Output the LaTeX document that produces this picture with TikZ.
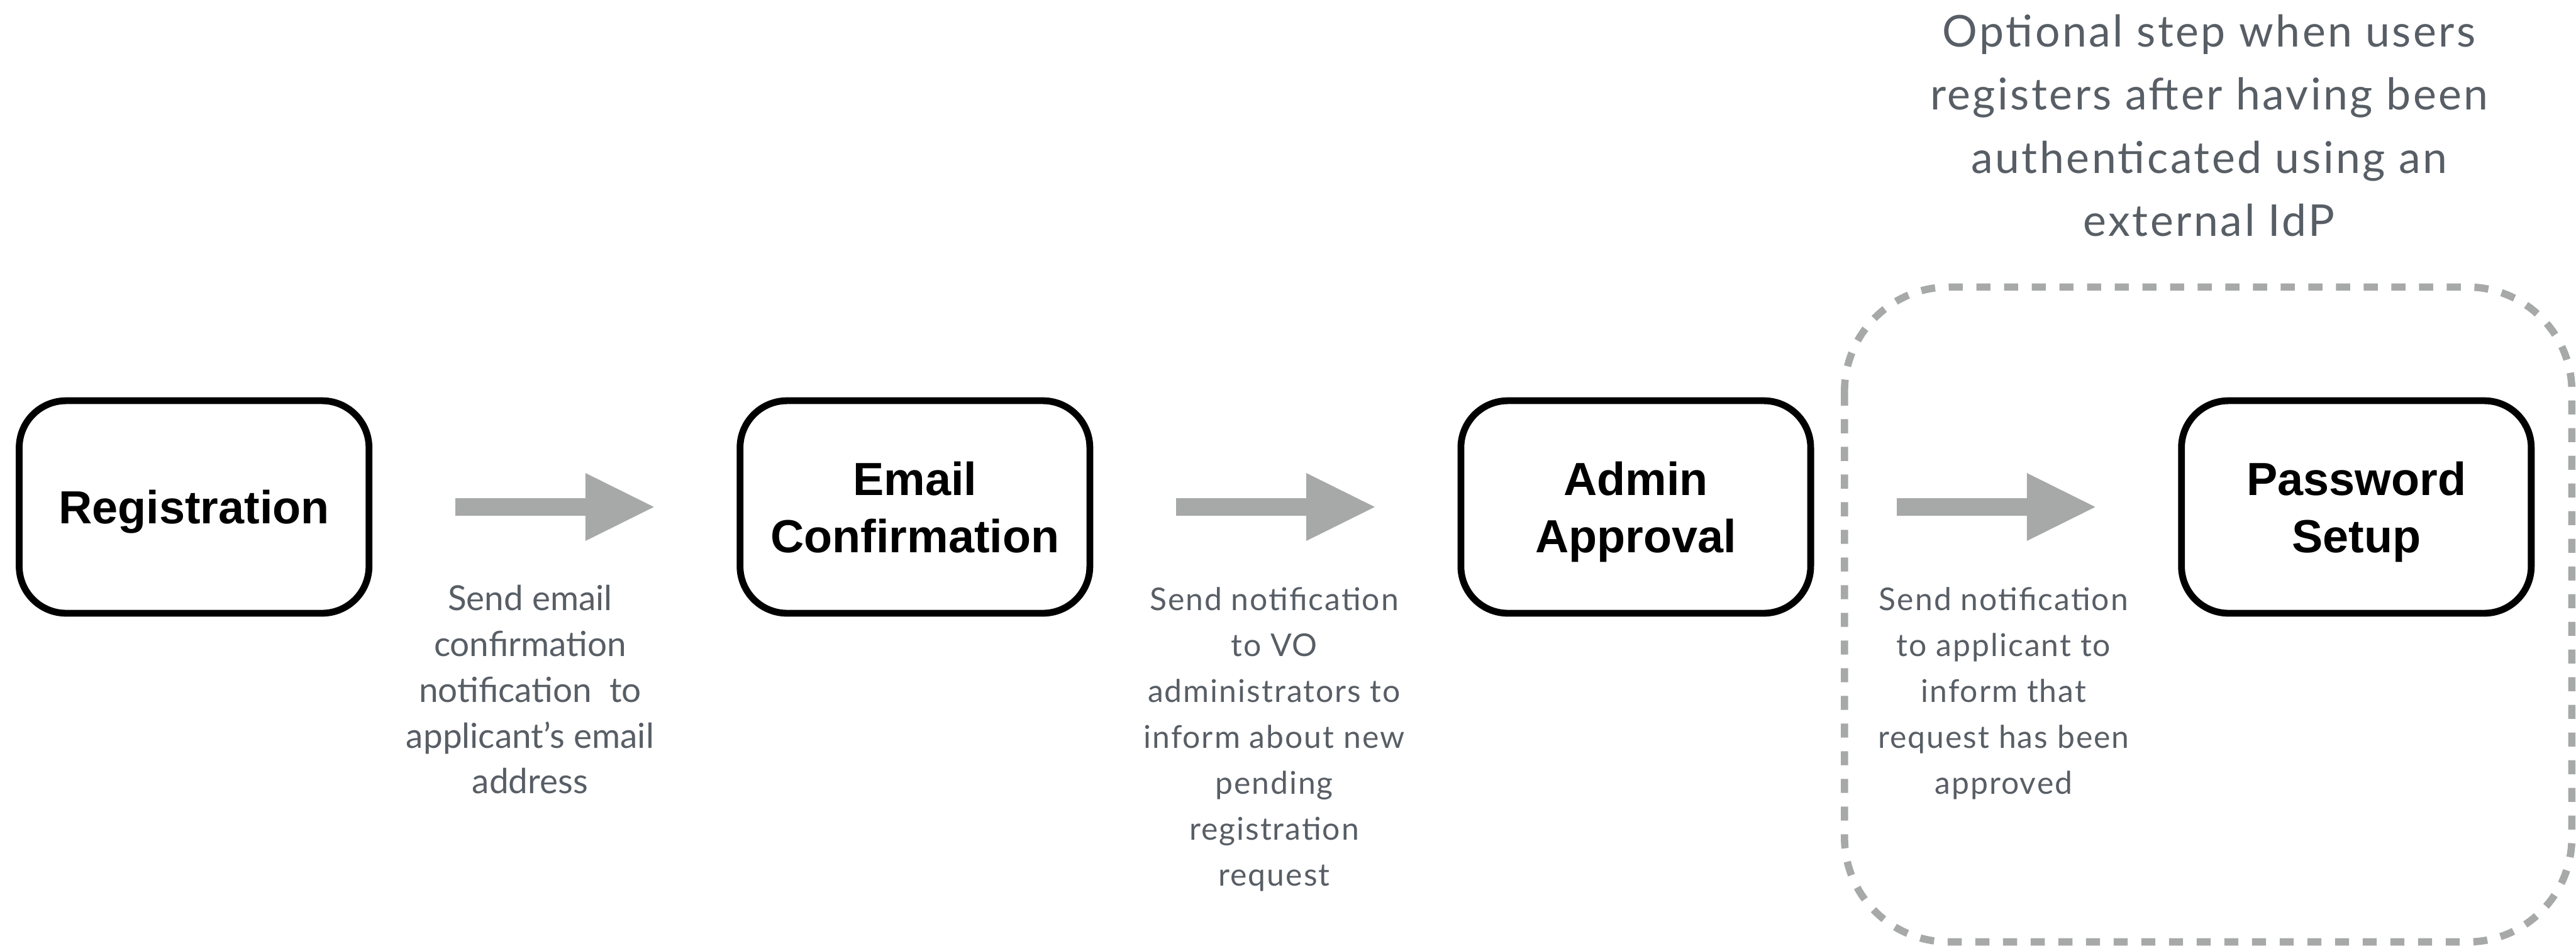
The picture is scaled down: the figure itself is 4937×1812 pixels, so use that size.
\documentclass[tikz,border=0pt]{standalone}
\usepackage{fontspec}
\setmainfont{Lato}
\newfontfamily\boxfont{Liberation Sans}
\newfontfamily\notefont{Lato}[LetterSpace=4]
\newfontfamily\titlefont{Lato}[LetterSpace=5]
\usetikzlibrary{arrows.meta}
\definecolor{flowgray}{RGB}{166,169,168}
\definecolor{notegray}{RGB}{88,94,101}

\begin{document}
\begin{tikzpicture}[x=0.01cm,y=-0.01cm,
  stepbox/.style={draw=black, line width=0.13cm, rounded corners=0.9cm,
    minimum width=6.70cm, minimum height=4.07cm, outer sep=0pt, inner sep=0pt,
    align=center, text depth=0pt,
    font=\boxfont\bfseries\fontsize{25.3pt}{31.3pt}\selectfont},
  flow/.style={draw=flowgray, line width=0.34cm,
    -{Triangle[length=1.31cm,width=1.30cm,line width=0pt]},
    shorten <=1.65cm, shorten >=1.65cm},
  note/.style={anchor=north, align=center, text=notegray, inner sep=0pt,
    font=\notefont\fontsize{17.1pt}{25pt}\selectfont},
  optframe/.style={draw=flowgray, line width=0.14cm, rounded corners=2cm,
    dash pattern=on 0.27cm off 0.26cm},
]
\useasboundingbox (0,0) rectangle (4937,1812);

% optional step frame
\draw[optframe] (3535,550) rectangle (4929,1805);
\node[note, font=\titlefont\fontsize{23.9pt}{34.4pt}\selectfont] (optnote) at (4234,27)
  {Optional step when users\\registers after having been\\authenticated using an\\external IdP};

% steps
\node[stepbox] (reg)   at (372,971.5)  {Registration};
\node[stepbox] (email) at (1753.5,971.5) {Email\\Confirmation};
\node[stepbox] (admin) at (3135,971.5) {Admin\\Approval};
\node[stepbox] (pwd)   at (4516,971.5) {Password\\Setup};

% transitions
\draw[flow] (reg) -- (email);
\draw[flow] (email) -- (admin);
\draw[flow] (admin) -- (pwd);

% notifications sent on each transition
\node[note, font=\rmfamily\fontsize{18.8pt}{25pt}\selectfont] (n1) at (1016,1120)
  {Send email\\confirmation\\notification\ \ to\\applicant’s email\\address};
\node[note] (n2) at (2442,1125)
  {Send notification\\to VO\\administrators to\\inform about new\\pending\\registration\\request};
\node[note] (n3) at (3840,1125)
  {Send notification\\to applicant to\\inform that\\request has been\\approved};
\end{tikzpicture}
\end{document}
